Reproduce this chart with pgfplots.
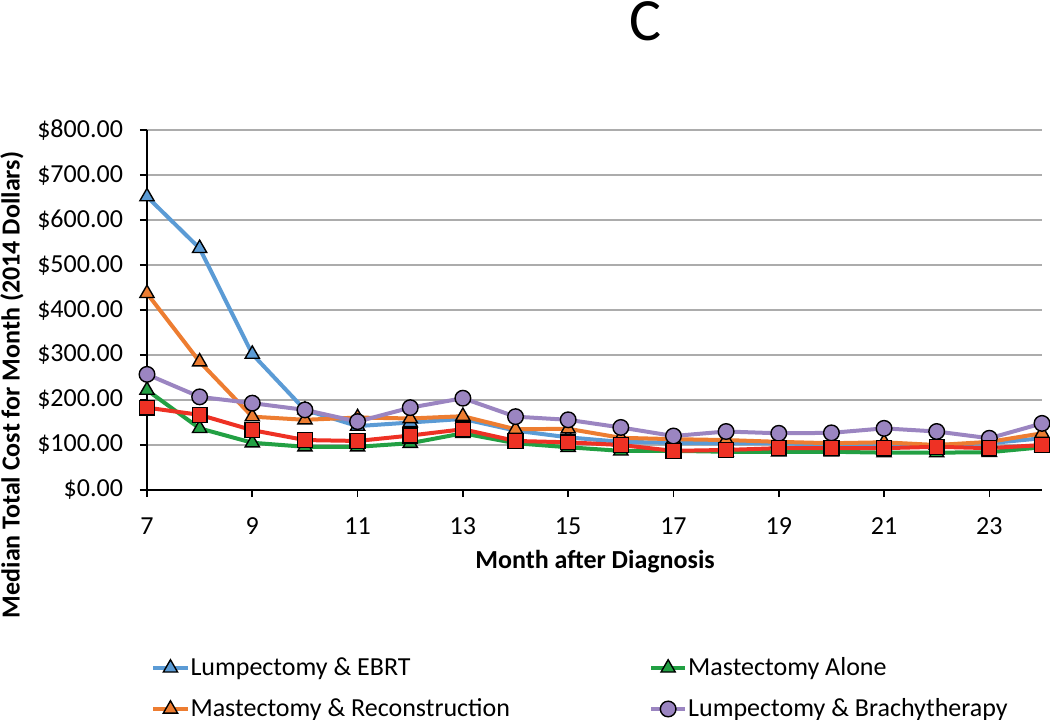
\documentclass[border=0pt]{standalone}
\usepackage{fontspec}
\setmainfont{Carlito}
\usepackage{pgfplots}
\pgfplotsset{compat=1.18}
\definecolor{cblue}{HTML}{5B9BD5}
\definecolor{corange}{HTML}{ED7D31}
\definecolor{cgreen}{HTML}{22A043}
\definecolor{cpurple}{HTML}{9B85C1}
\definecolor{cred}{HTML}{EE3124}
\newcommand{\fs}{\fontsize{13}{15.5}\selectfont}
\begin{document}
\begin{tikzpicture}
\begin{axis}[
  scale only axis, width=447.5pt, height=180pt,
  xmin=7, xmax=24, ymin=0, ymax=800,
  clip=false,
  axis lines=left, axis line style={-, black, line width=0.8pt},
  xtick={7,9,...,23}, ytick={0,100,...,800},
  tick align=outside, major tick length=3.5pt,
  tick style={black, line width=0.8pt},
  ymajorgrids, grid style={gray!65, line width=0.8pt},
  /pgf/number format/assume math mode=true,
  tick label style={font=\fs},
  yticklabel={\$\pgfmathprintnumber[fixed,fixed zerofill,precision=2,assume math mode=true]{\tick}},
  yticklabel style={xshift=-5pt},
  xticklabel style={yshift=-7pt},
  xlabel={\textbf{Month after Diagnosis}},
  xlabel style={font=\fs, at={(axis description cs:0.5006,-0.2)}, anchor=center},
  ylabel={\textbf{Median Total Cost for Month (2014 Dollars)}},
  ylabel style={font=\fs, at={(axis description cs:-0.1508,0.2917)}, anchor=center, rotate=0},
  title={C},
  title style={font=\fontsize{30}{32}\selectfont, at={(axis description cs:0.5575,1.214)}, anchor=base},
  legend columns=2,
  legend cell align=left,
  legend style={draw=none, fill=none, font=\fs, at={(axis description cs:0,0)}, anchor=north west,
    xshift=-1pt, yshift=-79.5pt, row sep=6pt,
    /tikz/every odd column/.append style={column sep=-1.5pt},
    /tikz/every even column/.append style={column sep=67.5pt}},
  every axis plot/.append style={line width=2pt},
]
\addplot[cblue, mark=triangle*, mark size=4.1pt, mark options={draw=black, fill=cblue, line width=0.7pt, solid}] coordinates {
(7,652) (8,537) (9,302) (10,178) (11,142) (12,150) (13,158) (14,132) (15,117) (16,107) (17,105) (18,104) (19,104) (20,100) (21,98) (22,100) (23,104) (24,115)};
\addlegendentry{Lumpectomy \& EBRT}
\addplot[cgreen, mark=triangle*, mark size=4.1pt, mark options={draw=black, fill=cgreen, line width=0.7pt, solid}] coordinates {
(7,222) (8,137) (9,105) (10,96) (11,96) (12,104) (13,126) (14,104) (15,95) (16,87) (17,87) (18,85) (19,85) (20,85) (21,83) (22,83) (23,84) (24,95)};
\addlegendentry{Mastectomy Alone}
\addplot[corange, mark=triangle*, mark size=4.1pt, mark options={draw=black, fill=corange, line width=0.7pt, solid}] coordinates {
(7,437) (8,285) (9,163) (10,156) (11,161) (12,159) (13,164) (14,135) (15,136) (16,116) (17,113) (18,111) (19,107) (20,104) (21,106) (22,100) (23,107) (24,126)};
\addlegendentry{Mastectomy \& Reconstruction}
\addplot[cpurple, mark=*, mark size=3.9pt, mark options={draw=black, fill=cpurple, line width=0.7pt, solid}] coordinates {
(7,257) (8,207) (9,193) (10,178) (11,152) (12,183) (13,204) (14,163) (15,156) (16,139) (17,120) (18,130) (19,126) (20,127) (21,137) (22,130) (23,115) (24,148)};
\addlegendentry{Lumpectomy \& Brachytherapy}
\addplot[cred, mark=square*, mark size=3.7pt, mark options={draw=black, fill=cred, line width=0.7pt, solid}, forget plot] coordinates {
(7,183) (8,167) (9,133) (10,111) (11,109) (12,121) (13,135) (14,109) (15,106) (16,100) (17,87) (18,89) (19,93) (20,93) (21,93) (22,96) (23,93) (24,100)};
\end{axis}
\pgfresetboundingbox
\useasboundingbox (-73.5pt,-114.5pt) rectangle (451.5pt,245pt);
\end{tikzpicture}
\end{document}
